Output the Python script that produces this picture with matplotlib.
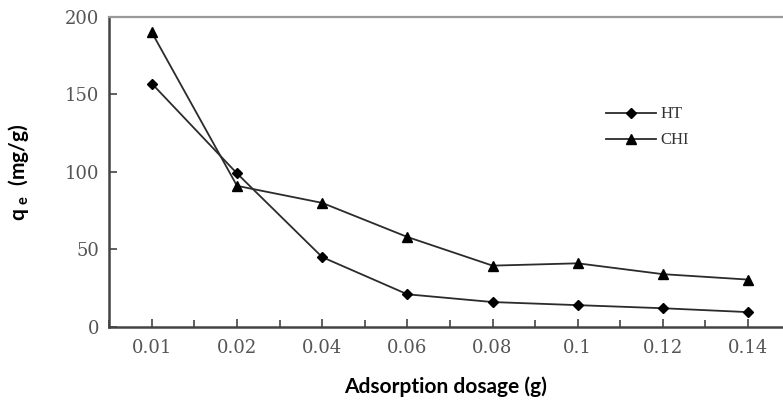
import matplotlib.pyplot as plt
from matplotlib.ticker import MultipleLocator

# ==========================================================
# Data
# ==========================================================

dosage_labels = ["0.01", "0.02", "0.04", "0.06", "0.08", "0.1", "0.12", "0.14"]

qe_ht = [157, 99, 45, 21, 16, 14, 12, 9.5]

qe_chi = [190, 91, 80, 58, 39.5, 41, 34, 30.5]

# ==========================================================
# Plot
# ==========================================================

fig = plt.figure(figsize=(7.83, 4.04), dpi=100)

ax = fig.add_axes([0.139, 0.191, 0.861, 0.767])

positions = list(range(len(dosage_labels)))

ax.plot(
    positions,
    qe_ht,
    color="#2b2b2b",
    linewidth=1.3,
    marker="D",
    markersize=5,
    markerfacecolor="black",
    markeredgecolor="black",
    label="HT"
)

ax.plot(
    positions,
    qe_chi,
    color="#2b2b2b",
    linewidth=1.3,
    marker="^",
    markersize=7,
    markerfacecolor="black",
    markeredgecolor="black",
    label="CHI"
)

ax.set_xlim(-0.505, 7.41)
ax.set_ylim(0, 200)

ax.set_xticks(positions)
ax.set_xticklabels(dosage_labels)
ax.xaxis.set_minor_locator(MultipleLocator(0.5))
ax.yaxis.set_major_locator(MultipleLocator(50))

ax.tick_params(
    axis="both",
    which="both",
    direction="in",
    colors="#444444",
    labelcolor="#555555",
    labelsize=13,
    width=1.2
)
ax.tick_params(axis="x", which="major", length=6, pad=9)
ax.tick_params(axis="x", which="minor", length=5)
ax.tick_params(axis="y", which="major", length=6, pad=7)

for label in ax.get_xticklabels() + ax.get_yticklabels():
    label.set_family("DejaVu Serif")

ax.spines["right"].set_visible(False)
ax.spines["top"].set_color("#999999")
ax.spines["top"].set_linewidth(1.6)
ax.spines["left"].set_color("#444444")
ax.spines["left"].set_linewidth(1.8)
ax.spines["bottom"].set_color("#444444")
ax.spines["bottom"].set_linewidth(1.8)

ax.set_ylabel(
    r"q$_{\ \mathregular{e}}$  (mg/g)",
    fontsize=15,
    fontweight="bold",
    family="Lato",
    labelpad=24
)

ax.set_xlabel(
    "Adsorption dosage (g)",
    fontsize=15,
    fontweight="bold",
    family="Lato",
    labelpad=14
)

legend = ax.legend(
    loc="upper left",
    bbox_to_anchor=(0.715, 0.76),
    frameon=False,
    handlelength=3.0,
    handletextpad=0.3,
    labelspacing=0.6,
    prop={"family": "Liberation Serif", "size": 12}
)
for text in legend.get_texts():
    text.set_color("#333333")

plt.savefig("out.png", dpi=100)

plt.close()
